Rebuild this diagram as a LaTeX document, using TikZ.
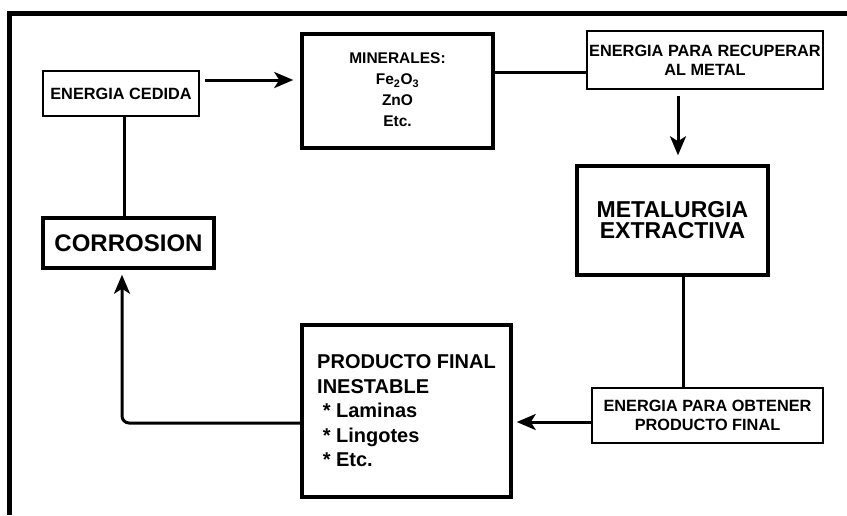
\documentclass[tikz,border=0pt]{standalone}
\usepackage{fontspec}
\setmainfont{Liberation Sans}
\usepackage{tikz}
\usetikzlibrary{arrows.meta}

\begin{document}
\begin{tikzpicture}[x=1pt,y=-1pt,>={Stealth[length=19pt,width=16pt,inset=5pt]},
  thinbox/.style={draw,line width=1.6pt,inner sep=0pt,align=center,font=\fontsize{16.3}{19}\selectfont\bfseries},
  thickbox/.style={draw,line width=3.5pt,inner sep=0pt,align=center},
  link/.style={line width=3pt}]
\useasboundingbox (0,0) rectangle (847,515);
\draw[line width=5pt] (9,515) -- (9,13) -- (847,13);
\node[thinbox,minimum width=156,minimum height=45] (cedida) at (121,93.5) {ENERGIA CEDIDA};
\node[thickbox,minimum width=191,minimum height=114,font=\fontsize{15.5}{21}\selectfont\bfseries] (minerales) at (397.5,91) {\raisebox{11pt}{\begin{tabular}{@{}c@{}}MINERALES:\\Fe\textsubscript{2}O\textsubscript{3}\\ZnO\\Etc.\end{tabular}}};
\node[thinbox,minimum width=236,minimum height=58] (recuperar) at (705,60) {ENERGIA PARA RECUPERAR\\AL METAL};
\node[thickbox,minimum width=191,minimum height=109,font=\fontsize{23}{21}\selectfont\bfseries] (metalurgia) at (672.5,220.5) {METALURGIA\\EXTRACTIVA};
\node[thickbox,minimum width=171,minimum height=50,font=\fontsize{24}{24}\selectfont\bfseries] (corrosion) at (128.5,243) {CORROSION};
\node[thickbox,minimum width=209,minimum height=172,align=left,font=\fontsize{20}{24.5}\selectfont\bfseries] (producto) at (406.5,411) {PRODUCTO FINAL\\INESTABLE\\\ * Laminas\\\ * Lingotes\\\ * Etc.};
\node[thinbox,minimum width=231,minimum height=55] (obtener) at (707.5,415.5) {ENERGIA PARA OBTENER\\PRODUCTO FINAL};
\draw[link,->,shorten <=5pt,shorten >=7pt] (cedida.east |- 0,80) -- (minerales.west |- 0,80);
\draw[link] (cedida.south -| 124,0) -- (corrosion.north -| 124,0);
\draw[link] (minerales.east |- 0,72) -- (recuperar.west |- 0,72);
\draw[link,->,shorten <=6pt,shorten >=9pt] (recuperar.south -| 678,0) -- (metalurgia.north -| 678,0);
\draw[link] (metalurgia.south -| 683,0) -- (obtener.north -| 683,0);
\draw[link,->,shorten >=4pt] (obtener.west |- 0,422) -- (producto.east |- 0,422);
\draw[link,->,rounded corners=7pt,shorten >=5pt] (producto.west |- 0,423) -| (corrosion.south -| 122,0);
\end{tikzpicture}
\end{document}
